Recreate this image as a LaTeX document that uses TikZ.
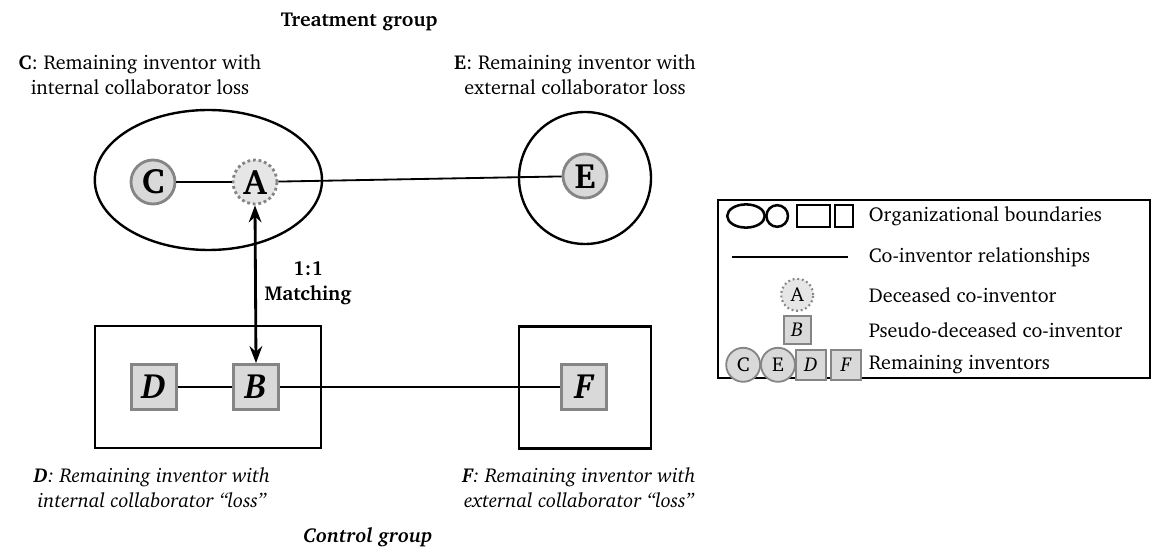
\documentclass[tikz,border=0pt]{standalone}
\usepackage[T1]{fontenc}
\renewcommand{\rmdefault}{bch}
\usepackage{tikz}
\usetikzlibrary{arrows.meta, shapes.geometric, positioning}
\definecolor{invfill}{HTML}{D9D9D9}
\definecolor{deadfill}{HTML}{E6E6E6}
\definecolor{invdraw}{HTML}{858585}

\begin{document}
\begin{tikzpicture}[
  >=Stealth,
  txt/.style={font=\fontsize{14.3}{17.8}\selectfont, align=center},
  org/.style={draw=black, line width=1.7pt},
  rcirc/.style={circle, minimum size=11mm, draw=invdraw, fill=invfill,
    line width=2pt, inner sep=0pt, font=\fontsize{25}{25}\selectfont\bfseries},
  dcirc/.style={circle, minimum size=11mm, draw=invdraw, fill=deadfill,
    line width=2pt, dotted, inner sep=0pt, font=\fontsize{25}{25}\selectfont\bfseries},
  rbox/.style={rectangle, minimum size=11.25mm, draw=invdraw, fill=invfill,
    line width=2pt, inner sep=0pt, font=\fontsize{25}{25}\selectfont\bfseries\itshape},
  link/.style={line width=1.3pt},
  lcirc/.style={circle, minimum size=8.5mm, draw=invdraw, fill=invfill,
    line width=1.3pt, inner sep=0pt, font=\fontsize{14.3}{14.3}\selectfont},
  lbox/.style={rectangle, minimum size=7.6mm, draw=invdraw, fill=invfill,
    line width=1.3pt, inner sep=0pt, font=\fontsize{14.3}{14.3}\selectfont\itshape},
  ltext/.style={txt, anchor=west}
]
\useasboundingbox (0,0) rectangle (29,-13.75);

% ---- Group titles ----
\node[txt, font=\fontsize{14.3}{17.8}\selectfont\bfseries] (treat) at (8.98,-0.55) {Treatment group};
\node[txt, font=\fontsize{14.3}{17.8}\selectfont\bfseries\itshape] (ctrl) at (9.2,-13.42) {Control group};

% ---- Organizational boundaries ----
\node[org, ellipse, minimum width=5.68cm, minimum height=3.5cm] (orgC) at (5.21,-4.5) {};
\node[org, circle, minimum size=3.3cm] (orgE) at (14.625,-4.45) {};
\node[org, rectangle, minimum width=5.65cm, minimum height=3.05cm] (orgD) at (5.2,-9.675) {};
\node[org, rectangle, minimum width=3.3cm, minimum height=3.05cm] (orgF) at (14.625,-9.69) {};

% ---- Treatment group inventors ----
\node[rcirc] (C) at (3.825,-4.55) {C};
\node[dcirc] (A) at (6.375,-4.55) {A};
\node[rcirc] (E) at (14.625,-4.4) {E};

% ---- Control group inventors ----
\node[rbox] (D) at (3.85,-9.675) {D};
\node[rbox] (B) at (6.4,-9.675) {B};
\node[rbox] (F) at (14.6,-9.675) {F};

% ---- Co-inventor links ----
\draw[link] (C) -- (A);
\draw[link] (A) -- (E);
\draw[link] (D) -- (B);
\draw[link] (B) -- (F);

% ---- Matching ----
\draw[<->, line width=2pt] (A.south) -- (B.north);
\node[txt, font=\fontsize{14.3}{17.8}\selectfont\bfseries] (match) at (7.7,-7.07) {1:1\\Matching};

% ---- Inventor labels ----
\node[txt] (labC) at (3.5,-1.875) {\textbf{C}: Remaining inventor with\\internal collaborator loss};
\node[txt] (labE) at (14.375,-1.875) {\textbf{E}: Remaining inventor with\\external collaborator loss};
\node[txt, font=\fontsize{14.3}{17.8}\selectfont\itshape] (labD) at (3.8,-12.2) {\textbf{D}: Remaining inventor with\\internal collaborator ``loss''};
\node[txt, font=\fontsize{14.3}{17.8}\selectfont\itshape] (labF) at (14.475,-12.2) {\textbf{F}: Remaining inventor with\\external collaborator ``loss''};

% ---- Legend ----
\draw[line width=1pt] (17.95,-5) rectangle (28.75,-9.45);
\draw[line width=1.8pt] (18.65,-5.4) ellipse (0.47 and 0.29);
\draw[line width=1.8pt] (19.43,-5.4) circle (0.27);
\draw[line width=1.8pt] (19.93,-5.13) rectangle (20.75,-5.67);
\draw[line width=1.8pt] (20.88,-5.13) rectangle (21.32,-5.67);
\node[ltext] (leg1) at (21.6,-5.4) {Organizational boundaries};

\coordinate (lnL) at (18.3,-6.42);
\coordinate (lnR) at (21.2,-6.42);
\draw[link] (lnL) -- (lnR);
\node[ltext] (leg2) at (21.6,-6.42) {Co-inventor relationships};

\node[lcirc, fill=deadfill, dotted, line width=1.5pt, minimum size=8mm] (legA) at (19.93,-7.37) {A};
\node[ltext] (leg3) at (21.6,-7.37) {Deceased co-inventor};

\node[lbox, minimum size=6.8mm] (legB) at (19.93,-8.25) {B};
\node[ltext] (leg4) at (21.6,-8.25) {Pseudo-deceased co-inventor};

\node[lcirc] (legC) at (18.58,-9.12) {C};
\node[lcirc] (legE) at (19.45,-9.12) {E};
\node[lbox] (legD) at (20.28,-9.12) {D};
\node[lbox] (legF) at (21.15,-9.12) {F};
\node[ltext] (leg5) at (21.6,-9.12) {Remaining inventors};

\end{tikzpicture}
\end{document}
